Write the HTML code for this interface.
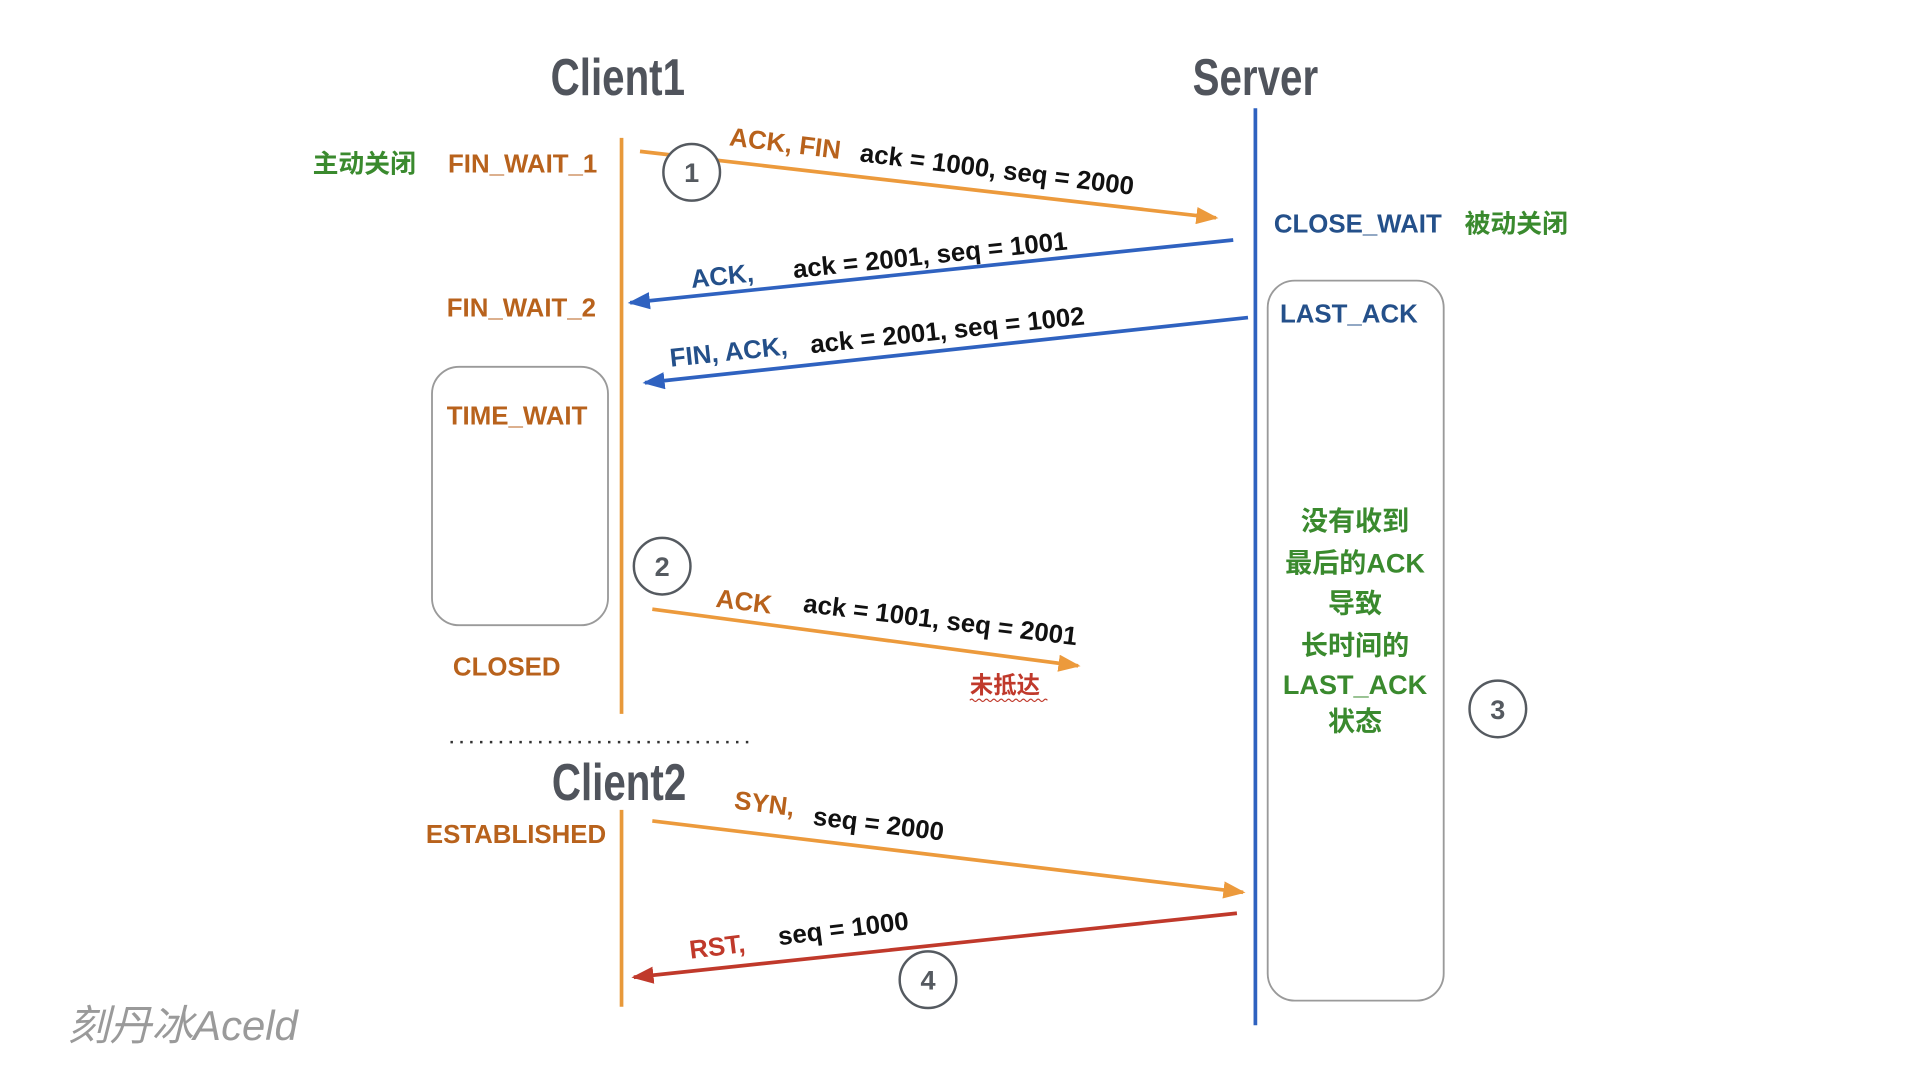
<!DOCTYPE html>
<html><head><meta charset="utf-8"><style>
html,body{margin:0;padding:0;background:#fff;width:1920px;height:1080px;overflow:hidden}
svg{display:block}
text{font-family:"Liberation Sans","Noto Sans CJK SC",sans-serif}
</style></head><body>
<svg width="1920" height="1080" viewBox="0 0 1560 877.5" preserveAspectRatio="none" xmlns="http://www.w3.org/2000/svg">
<defs>
<marker id="ao" markerWidth="18" markerHeight="14" refX="16" refY="7" orient="auto" markerUnits="userSpaceOnUse" viewBox="0 0 18 14"><path d="M0,0 L18,7 L0,14 z" fill="#ec9a3c"/></marker>
<marker id="ab" markerWidth="18" markerHeight="14" refX="16" refY="7" orient="auto" markerUnits="userSpaceOnUse" viewBox="0 0 18 14"><path d="M0,0 L18,7 L0,14 z" fill="#2f62c0"/></marker>
<marker id="ar" markerWidth="18" markerHeight="14" refX="16" refY="7" orient="auto" markerUnits="userSpaceOnUse" viewBox="0 0 18 14"><path d="M0,0 L18,7 L0,14 z" fill="#c0392b"/></marker>
</defs>
<g font-weight="bold" fill="#50545c" font-size="42" text-anchor="middle">
<text x="502" y="77" transform="translate(502 0) scale(0.78 1) translate(-502 0)">Client1</text>
<text x="1020" y="77" transform="translate(1020 0) scale(0.78 1) translate(-1020 0)">Server</text>
<text x="503" y="650" transform="translate(503 0) scale(0.78 1) translate(-503 0)">Client2</text>
</g>
<g stroke-width="3" fill="none">
<line x1="505" y1="112" x2="505" y2="580" stroke="#e8993a"/>
<line x1="505" y1="658" x2="505" y2="818" stroke="#e8993a"/>
<line x1="1020" y1="88" x2="1020" y2="833" stroke="#2f62c0"/>
<line x1="520" y1="123" x2="988" y2="177" stroke="#ec9a3c" marker-end="url(#ao)"/>
<line x1="1002" y1="195" x2="512" y2="246" stroke="#2f62c0" marker-end="url(#ab)"/>
<line x1="1014" y1="258" x2="524" y2="311" stroke="#2f62c0" marker-end="url(#ab)"/>
<line x1="530" y1="495" x2="876" y2="541" stroke="#ec9a3c" marker-end="url(#ao)"/>
<line x1="530" y1="667" x2="1010" y2="725" stroke="#ec9a3c" marker-end="url(#ao)"/>
<line x1="1005" y1="742" x2="515" y2="794" stroke="#c0392b" marker-end="url(#ar)"/>
</g>
<g fill="none" stroke="#9a9a9a" stroke-width="1.5">
<rect x="351" y="298" width="143" height="210" rx="22"/>
<rect x="1030" y="228" width="143" height="585" rx="22"/>
</g>
<line x1="366" y1="603" x2="614" y2="603" stroke="#333" stroke-width="2" stroke-dasharray="2 6"/>
<g fill="#fff" stroke="#555a60" stroke-width="2">
<circle cx="562" cy="140" r="23"/><circle cx="538" cy="460" r="23"/>
<circle cx="1217" cy="576" r="23"/><circle cx="754" cy="796" r="23"/>
</g>
<g fill="#555a60" font-size="22" font-weight="bold" text-anchor="middle">
<text x="562" y="148">1</text><text x="538" y="468">2</text>
<text x="1217" y="584">3</text><text x="754" y="804">4</text>
</g>
<g font-size="21" font-weight="bold">
<text x="254" y="140" fill="#3a8a2e">主动关闭</text>
<text x="364" y="140" fill="#b8621c">FIN_WAIT_1</text>
<text x="363" y="257" fill="#b8621c">FIN_WAIT_2</text>
<text x="363" y="345" fill="#b8621c">TIME_WAIT</text>
<text x="368" y="549" fill="#b8621c">CLOSED</text>
<text x="346" y="685" fill="#b8621c">ESTABLISHED</text>
<text x="1035" y="189" fill="#24508a">CLOSE_WAIT</text>
<text x="1190" y="189" fill="#3a8a2e">被动关闭</text>
<text x="1040" y="262" fill="#24508a">LAST_ACK</text>
</g>
<g font-size="22" font-weight="bold" fill="#3a8a2e" text-anchor="middle">
<text x="1101" y="431">没有收到</text>
<text x="1101" y="465">最后的ACK</text>
<text x="1101" y="498">导致</text>
<text x="1101" y="532">长时间的</text>
<text x="1101" y="564">LAST_ACK</text>
<text x="1101" y="594">状态</text>
</g>
<g font-size="21" font-weight="bold">
<text transform="translate(592 118) rotate(7)" fill="#b8621c">ACK, FIN</text>
<text transform="translate(698 131) rotate(7)" fill="#111">ack = 1000, seq = 2000</text>
<text transform="translate(562 234) rotate(-6)" fill="#24508a">ACK,</text>
<text transform="translate(645 226) rotate(-6)" fill="#111">ack = 2001, seq = 1001</text>
<text transform="translate(545 298) rotate(-6)" fill="#24508a">FIN, ACK,</text>
<text transform="translate(659 287) rotate(-6)" fill="#111">ack = 2001, seq = 1002</text>
<text transform="translate(581 493) rotate(7)" fill="#b8621c">ACK</text>
<text transform="translate(652 497) rotate(7)" fill="#111">ack = 1001, seq = 2001</text>
<text x="788" y="563" fill="#c0392b" font-size="19">未抵达</text>
<text transform="translate(596 657) rotate(7)" fill="#b8621c">SYN,</text>
<text transform="translate(660 670) rotate(7)" fill="#111">seq = 2000</text>
<text transform="translate(561 779) rotate(-7)" fill="#c0392b">RST,</text>
<text transform="translate(633 768) rotate(-7)" fill="#111">seq = 1000</text>
</g>
<path d="M788 569 q1.5 -2 3 0 t3 0 t3 0 t3 0 t3 0 t3 0 t3 0 t3 0 t3 0 t3 0 t3 0 t3 0 t3 0 t3 0 t3 0 t3 0 t3 0 t3 0 t3 0 t3 0 t3 0" stroke="#c0392b" fill="none" stroke-width="1"/>
<text x="55" y="845" font-size="34" font-style="italic" fill="#9a9a9a" font-family="'Noto Serif CJK SC','Liberation Serif',serif">刻丹冰Aceld</text>
</svg>
</body></html>
